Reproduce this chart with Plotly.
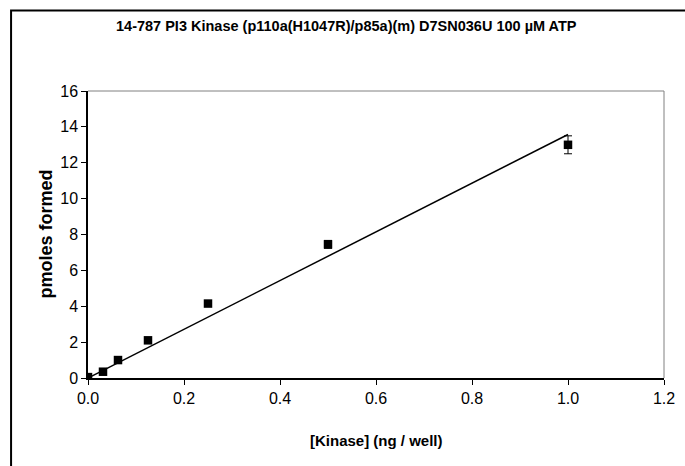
import numpy as np
import plotly.graph_objects as go

kinase = [0.0, 0.03125, 0.0625, 0.125, 0.25, 0.5, 1.0]
pmoles = [0.05, 0.35, 1.0, 2.1, 4.15, 7.45, 13.0]
errors = [0.1, 0.12, 0.15, 0.15, 0.15, 0.22, 0.5]

x_arr = np.array(kinase)
y_arr = np.array(pmoles)
slope = float((x_arr * y_arr).sum() / (x_arr ** 2).sum())
fit_x = [0.0, 1.0]
fit_y = [slope * v for v in fit_x]

FONT = "Liberation Sans, Arial, sans-serif"

L, R, T, B = 87.5, 664.0, 91.0, 378.0
W, H = 685, 466

fig = go.Figure()
fig.add_trace(go.Scatter(x=fit_x, y=fit_y, mode="lines",
                         line=dict(color="black", width=1.5), showlegend=False,
                         hoverinfo="skip"))
fig.add_trace(go.Scatter(x=kinase, y=pmoles, mode="markers",
                         marker=dict(symbol="square", size=8.5, color="black"),
                         error_y=dict(type="data", array=errors, color="black",
                                      thickness=1, width=4),
                         showlegend=False))

fig.update_layout(
    width=W, height=H,
    paper_bgcolor="white", plot_bgcolor="white",
    margin=dict(l=L, r=W - R, t=T, b=H - B, autoexpand=False),
    font=dict(family=FONT, size=16, color="black"),
    xaxis=dict(range=[0, 1.2], tickvals=[0, 0.2, 0.4, 0.6, 0.8, 1.0, 1.2],
               tickformat=".1f", showgrid=False, zeroline=False, automargin=False,
               showline=True, linecolor="black", linewidth=1.5,
               mirror=False, ticks="outside", ticklen=5, tickcolor="black",
               tickfont=dict(size=16)),
    yaxis=dict(range=[0, 16], tickvals=list(range(0, 17, 2)),
               showgrid=False, zeroline=False, automargin=False,
               showline=True, linecolor="black", linewidth=1.5,
               ticks="outside", ticklen=5, tickcolor="black",
               tickfont=dict(size=16)),
    annotations=[
        dict(text="<b>14-787 PI3 Kinase (p110a(H1047R)/p85a)(m) D7SN036U 100 µM ATP</b>",
             xref="paper", yref="paper", x=(346 - L) / (R - L), y=(B - 26) / (B - T),
             xanchor="center", yanchor="middle", showarrow=False,
             font=dict(family=FONT, size=14.5, color="black")),
        dict(text="<b>[Kinase] (ng / well)</b>",
             xref="paper", yref="paper", x=0.5, y=(B - 440) / (B - T),
             xanchor="center", yanchor="middle", showarrow=False,
             font=dict(family=FONT, size=15, color="black")),
        dict(text="<b>pmoles formed</b>", textangle=-90,
             xref="paper", yref="paper", x=(45 - L) / (R - L), y=(B - 234) / (B - T),
             xanchor="center", yanchor="middle", showarrow=False,
             font=dict(family=FONT, size=18, color="black")),
    ],
    shapes=[
        dict(type="line", xref="paper", yref="paper", x0=0, x1=1, y0=1, y1=1,
             line=dict(color="#808080", width=1)),
        dict(type="line", xref="paper", yref="paper", x0=1, x1=1, y0=0, y1=1,
             line=dict(color="#808080", width=1)),
        dict(type="rect", xref="paper", yref="paper",
             x0=(10.5 - L) / (R - L), x1=1.2, y0=-0.6, y1=(B - 10.5) / (B - T),
             line=dict(color="black", width=2), layer="below"),
    ],
)

fig.write_html("out.html", config={"displayModeBar": False},
               post_script="document.body.style.margin='0';document.body.style.overflow='hidden';")
